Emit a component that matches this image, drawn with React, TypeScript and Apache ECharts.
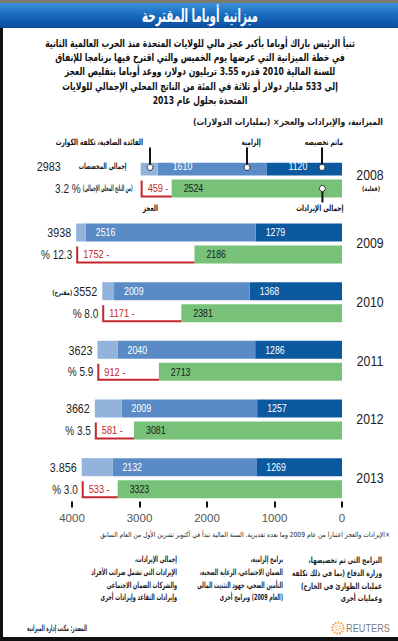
import React, { useEffect, useRef } from 'react';
import * as echarts from 'echarts';

// ---------- data ----------
const years = ['2008', '2009', '2010', '2011', '2012', '2013'];
const yearNotes = ['(فعلية)', '', '', '', '', ''];
const mandated = [1120, 1279, 1368, 1286, 1257, 1269]; // ماتم تخصيصه
const mandatory = [1610, 2516, 2009, 2040, 2009, 2132]; // إلزامية
const netInterest = [253, 143, 175, 297, 396, 455]; // الفائدة الصافية، تكلفة الكوارث
const totalLabels = ['2983', '3938', '3552', '3623', '3662', '3.856'];
const totalNotes = ['', '', '(مقترح)', '', '', ''];
const revenue = [2524, 2186, 2381, 2713, 3081, 3323];
const deficit = [459, 1752, 1171, 912, 581, 533];
const pctLabels = ['3.2 %', '% 12.3', '% 8.0', '% 5.9', '% 3.5', '% 3.0'];
const xTicks = [0, 1000, 2000, 3000, 4000];
const spendRows = [0, 9, 17, 25, 33, 41];
const revenueRows = [3, 12, 20, 28, 36, 44];
const rowCount = 47;

const pinLabels = ['ماتم تخصيصه', 'إلزامية', 'الفائدة الصافية، تكلفة الكوارث', 'إجمالي الإيرادات', 'العجز'];
const pinValues = [296, 1407, 2844, 290, 2840];
const pinOnRevenue = [false, false, false, true, true];

const paragraph = [
  'تنبأ الرئيس باراك أوباما بأكبر عجز مالي للولايات المتحدة منذ الحرب العالمية الثانية',
  'في خطة الميزانية التي عرضها يوم الخميس والتي اقترح فيها برنامجا للإنفاق',
  'للسنة المالية 2010 قدره 3.55 تريليون دولار، ووعد أوباما بتقليص العجز',
  'إلى 533 مليار دولار أو ثلاثة في المئة من الناتج المحلي الإجمالي للولايات',
  'المتحدة بحلول عام 2013',
];
const titleText = 'ميزانية أوباما المقترحة';
const subtitleText = 'الميزانية، والإيرادات والعجز× (بمليارات الدولارات)';
const footnoteText = '×الإيرادات والعجز اعتبارا من عام 2009 وما بعده تقديرية. السنة المالية تبدأ في أكتوبر تشرين الأول من العام السابق';
const notesRight = ['البرامج التي تم تخصيصها،', 'وزارة الدفاع (بما في ذلك تكلفة', 'عمليات الطوارئ في الخارج)', 'وعمليات أخرى'];
const notesMid = ['برامج إلزامية،', 'الضمان الاجتماعي، الرعاية الصحية،', 'التأمين الصحي، جهود التثبيت المالي', '(العام 2009) وبرامج أخرى'];
const notesLeft = ['إجمالي الإيرادات،', 'الإيرادات التي تشمل ضرائب الأفراد', 'والشركات الضمان الاجتماعي', 'وإيرادات التقاعد وإيرادات أخرى'];
const sourceText = 'المصدر: مكتب إدارة الميزانية';
const spendLabel2008 = 'إجمالي المخصصات';
const pctNote2008 = '(من الناتج المحلي الإجمالي)';

// ---------- styles ----------
const AR_FAM = "'DejaVu Sans', sans-serif";
const NUM_FAM = "'Liberation Sans', Arial, sans-serif";
const C_DARK = '#0c59a0';
const C_MID = '#5b8bc6';
const C_LIGHT = '#93b3dd';
const C_GREEN = '#77c278';
const C_RED = '#c1272d';
const C_TXT = '#1e1e1e';
const BAR_H = 18;
const NUM_SCALE = 0.8;

const rtl = (s: string) => (s ? '\u200F' + s + '\u200F' : s);

let measureCtx: CanvasRenderingContext2D | null = null;
function measure(text: string, font: string) {
  if (!measureCtx) measureCtx = document.createElement('canvas').getContext('2d');
  if (!measureCtx) return text.length * 6;
  measureCtx.font = font;
  return measureCtx.measureText(text).width || 1;
}

function txt(
  x: number,
  y: number,
  text: string,
  font: string,
  opts: { fill?: string; align?: string; scale?: number; width?: number } = {}
) {
  const s = opts.width ? opts.width / measure(text, font) : opts.scale ?? 1;
  return {
    type: 'text',
    x,
    y,
    scaleX: s,
    style: {
      text,
      font,
      fill: opts.fill ?? C_TXT,
      align: opts.align ?? 'left',
      verticalAlign: 'middle',
    },
  };
}

function place(rows: number[], vals: number[]) {
  const arr: any[] = new Array(rowCount).fill('-');
  rows.forEach((r, i) => {
    arr[r] = vals[i];
  });
  return arr;
}

export default function App() {
  const ref = useRef<HTMLDivElement>(null);

  useEffect(() => {
    if (!ref.current) return;
    const chart = echarts.init(ref.current, null, { renderer: 'svg' });

    const categories = Array.from({ length: rowCount }, (_, i) => String(i));

    const paraFont = `bold 11px ${AR_FAM}`;
    const paraScale = 310 / measure(rtl(paragraph[0]), paraFont);
    const smallFont = `bold 8.5px ${AR_FAM}`;
    const smallScale = 90 / measure(rtl(notesRight[1]), smallFont);

    const graphics: any[] = [
      { type: 'rect', shape: { x: 0, y: 0, width: 398, height: 3 }, style: { fill: '#7d7b70' } },
      {
        type: 'rect',
        shape: { x: 0, y: 3, width: 398, height: 25 },
        style: {
          fill: new echarts.graphic.LinearGradient(0, 0, 0, 1, [
            { offset: 0, color: '#3d93de' },
            { offset: 0.45, color: '#1a6cc0' },
            { offset: 1, color: '#0a4d9c' },
          ]),
        },
      },
      txt(200, 15.5, rtl(titleText), `bold 18px ${AR_FAM}`, { fill: '#fff', align: 'center', width: 116 }),
      { type: 'rect', shape: { x: 0, y: 28, width: 3, height: 613 }, style: { fill: '#111' } },
      { type: 'rect', shape: { x: 0, y: 637, width: 398, height: 4 }, style: { fill: '#111' } },
    ];
    const parY = [43, 57, 71, 86, 100];
    paragraph.forEach((l, i) =>
      graphics.push(txt(200, parY[i], rtl(l), paraFont, { align: 'center', scale: paraScale, fill: '#111' }))
    );
    graphics.push(txt(383, 122, rtl(subtitleText), `bold 9.5px ${AR_FAM}`, { align: 'right', width: 190 }));
    graphics.push(txt(390, 535, rtl(footnoteText), `7px ${AR_FAM}`, { align: 'right', width: 290 }));
    const noteY = [560, 573, 586, 598];
    const cols: [string[], number, number][] = [
      [notesRight, 382, 90],
      [notesMid, 283, 86],
      [notesLeft, 177, 86],
    ];
    cols.forEach(([lines, x, w]) => {
      const widest = Math.max(...lines.map((l) => measure(rtl(l), smallFont)));
      const sc = w / widest;
      lines.forEach((l, i) => graphics.push(txt(x, noteY[i], rtl(l), smallFont, { align: 'right', scale: sc })));
    });
    graphics.push(txt(87, 628, rtl(sourceText), smallFont, { align: 'right', width: 60 }));
    graphics.push({
      type: 'circle',
      shape: { cx: 338, cy: 628, r: 5.5 },
      style: { fill: 'none', stroke: '#f0a04a', lineWidth: 2.2, lineDash: [1.6, 1.2] },
    });
    graphics.push({
      type: 'circle',
      shape: { cx: 338, cy: 628, r: 2.2 },
      style: { fill: 'none', stroke: '#f4b46a', lineWidth: 1.6, lineDash: [1.2, 1] },
    });
    graphics.push(txt(346, 628.5, 'REUTERS', `10.5px ${NUM_FAM}`, { fill: '#7a7a7a', width: 44 }));

    const option: any = {
      animation: false,
      backgroundColor: '#ffffff',
      grid: { left: 72, right: 56, top: 162.8, height: 344.7, containLabel: false },
      xAxis: {
        type: 'value',
        min: xTicks[0],
        max: xTicks[xTicks.length - 1],
        interval: 1000,
        inverse: true,
        axisLine: { show: false },
        axisTick: { show: true, inside: true, length: 6, lineStyle: { color: '#111', width: 2 } },
        axisLabel: { color: '#555', fontFamily: NUM_FAM, fontSize: 11.5, margin: 4, formatter: (v: number) => String(v) },
        splitLine: { show: false },
      },
      yAxis: {
        type: 'category',
        inverse: true,
        data: categories,
        show: false,
      },
      graphic: graphics,
      series: [
        { type: 'bar', name: 'mandated', stack: 's', barWidth: BAR_H, data: place(spendRows, mandated), itemStyle: { color: C_DARK } },
        { type: 'bar', name: 'mandatory', stack: 's', barWidth: BAR_H, data: place(spendRows, mandatory), itemStyle: { color: C_MID } },
        { type: 'bar', name: 'interest', stack: 's', barWidth: BAR_H, data: place(spendRows, netInterest), itemStyle: { color: C_LIGHT } },
        { type: 'bar', name: 'revenue', stack: 's', barWidth: BAR_H, data: place(revenueRows, revenue), itemStyle: { color: C_GREEN } },
        {
          type: 'custom',
          name: 'yearLabels',
          data: years.map((_, i) => [0, spendRows[i], i]),
          z: 5,
          renderItem: (params: any, api: any) => {
            const i = api.value(2);
            const rs = spendRows[i];
            const rr = revenueRows[i];
            const p0 = api.coord([0, rs]);
            const cyS = p0[1];
            const cyR = api.coord([0, rr])[1];
            const xDark = api.coord([mandated[i], rs])[0];
            const xMid = api.coord([mandated[i] + mandatory[i], rs])[0];
            const xTot = api.coord([mandated[i] + mandatory[i] + netInterest[i], rs])[0];
            const xGreen = api.coord([revenue[i], rr])[0];
            const xDef = api.coord([revenue[i] + deficit[i], rr])[0];
            const nf = `11px ${NUM_FAM}`;
            const big = `12.5px ${NUM_FAM}`;
            const ch: any[] = [];
            // bar value labels
            ch.push(txt(xDark + (i === 0 ? 22 : 10), cyS, String(mandated[i]), nf, { fill: '#fff', scale: NUM_SCALE }));
            ch.push(txt(xMid + (i === 0 ? 15 : 10), cyS, String(mandatory[i]), nf, { fill: '#fff', scale: NUM_SCALE }));
            ch.push(txt(xGreen + 12, cyR, String(revenue[i]), nf, { fill: '#1a1a1a', scale: NUM_SCALE }));
            // deficit bracket and label
            ch.push({
              type: 'polyline',
              shape: {
                points: [
                  [xDef + 1, cyR - BAR_H / 2 + 1],
                  [xDef + 1, cyR + BAR_H / 2 - 1],
                  [xGreen, cyR + BAR_H / 2 - 1],
                ],
              },
              style: { stroke: C_RED, lineWidth: 2, fill: 'none' },
            });
            ch.push(txt(xDef + 7, cyR, `${deficit[i]} -`, `11.5px ${NUM_FAM}`, { fill: C_RED, scale: NUM_SCALE }));
            // totals on the left
            if (i === 0) {
              ch.push(txt(xTot - 14, cyS, rtl(spendLabel2008), smallFont, { align: 'right', width: 48 }));
              ch.push(txt(xTot - 80, cyS, totalLabels[i], big, { align: 'right', scale: 0.86 }));
              ch.push(txt(xDef - 8, cyR, rtl(pctNote2008), smallFont, { align: 'right', width: 50 }));
              ch.push(txt(xDef - 60, cyR, pctLabels[i], big, { align: 'right', scale: 0.8 }));
            } else {
              ch.push(txt(xTot - 5, cyS, totalLabels[i], big, { align: 'right', scale: 0.86 }));
              ch.push(txt(xDef - 4, cyR, pctLabels[i], big, { align: 'right', scale: 0.8 }));
              if (totalNotes[i]) {
                ch.push(txt(xTot - 30, cyS + 1, rtl(totalNotes[i]), `bold 7px ${AR_FAM}`, { align: 'right', width: 20 }));
              }
            }
            // year label
            const yx = p0[0] + 28;
            if (yearNotes[i]) {
              ch.push(txt(yx, cyS + 9, years[i], `15px ${NUM_FAM}`, { align: 'center', scale: 0.82 }));
              ch.push(txt(yx + 1, cyS + 22, rtl(yearNotes[i]), `bold 7px ${AR_FAM}`, { align: 'center', width: 18 }));
            } else {
              ch.push(txt(yx, (cyS + cyR) / 2, years[i], `15px ${NUM_FAM}`, { align: 'center', scale: 0.82 }));
            }
            return { type: 'group', children: ch };
          },
        },
        {
          type: 'custom',
          name: 'pins',
          data: pinLabels.map((_, i) => [pinValues[i], pinOnRevenue[i] ? revenueRows[0] : spendRows[0], i]),
          z: 6,
          renderItem: (params: any, api: any) => {
            const i = api.value(2);
            const p = api.coord([api.value(0), api.value(1)]);
            const x = p[0];
            const cy = p[1];
            const dx = [21, 4, -7, 21, 0][i];
            const align = ['right', 'center', 'right', 'right', 'center'][i];
            const ch: any[] = [];
            if (!pinOnRevenue[i]) {
              ch.push({ type: 'line', shape: { x1: x, y1: cy - 19, x2: x, y2: cy }, style: { stroke: '#111', lineWidth: 2 } });
              ch.push({ type: 'circle', shape: { cx: x, cy: cy + 1, r: 3 }, style: { fill: '#fff', stroke: '#333', lineWidth: 1 } });
              ch.push(txt(x + dx, cy - 24.5, rtl(pinLabels[i]), smallFont, { align, scale: smallScale, fill: '#111' }));
            } else {
              if (i === 3) {
                ch.push({ type: 'line', shape: { x1: x, y1: cy, x2: x, y2: cy + 14 }, style: { stroke: '#111', lineWidth: 2 } });
                ch.push({ type: 'circle', shape: { cx: x, cy, r: 3 }, style: { fill: '#fff', stroke: '#333', lineWidth: 1 } });
              }
              ch.push(txt(x + dx, cy + 20, rtl(pinLabels[i]), smallFont, { align, scale: smallScale, fill: '#111' }));
            }
            return { type: 'group', children: ch };
          },
        },
      ],
    };

    chart.setOption(option);
    return () => chart.dispose();
  }, []);

  return (
    <div
      ref={ref}
      style={{ position: 'absolute', left: 0, top: 0, width: 398, height: 641, background: '#fff' }}
    />
  );
}
